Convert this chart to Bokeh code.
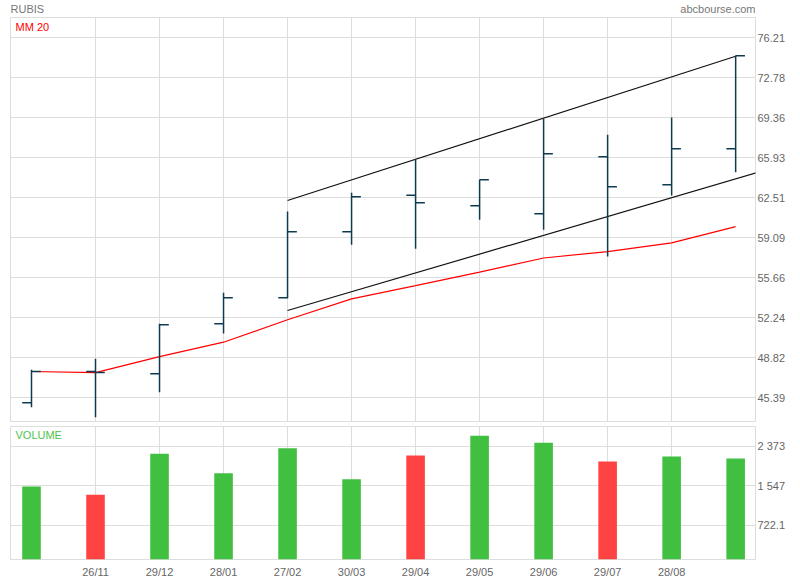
from bokeh.plotting import figure
from bokeh.layouts import column
from bokeh.models import Range1d, FixedTicker, Label, PrintfTickFormatter, ColumnDataSource
from bokeh.core.properties import value
from bokeh.embed import file_html
from bokeh.resources import INLINE

# ---------------- data ----------------
dates = ["", "26/11", "29/12", "28/01", "27/02", "30/03", "29/04", "29/05", "29/06", "29/07", "28/08", ""]
opens = [44.96, 47.64, 47.44, 51.72, 53.95, 59.60, 62.73, 61.83, 61.14, 66.02, 63.62, 66.71]
highs = [47.79, 48.73, 51.72, 54.38, 61.34, 62.94, 65.79, 64.05, 69.28, 67.91, 69.39, 74.69]
lows = [44.58, 43.73, 45.87, 50.89, 53.92, 58.49, 58.15, 60.63, 59.77, 57.49, 62.71, 64.70]
closes = [47.64, 47.55, 51.64, 53.95, 59.60, 62.60, 62.08, 64.05, 66.28, 63.45, 66.71, 74.67]
mm20 = [47.64, 47.55, 48.92, 50.15, 52.07, 53.86, 55.00, 56.15, 57.36, 57.91, 58.66, 60.05]
volume = [1530, 1356, 2217, 1810, 2332, 1686, 2182, 2594, 2450, 2058, 2161, 2120]
upper_x = [4, 11]
upper_y = [62.28, 74.63]
lower_x = [4, 12]
lower_y = [52.86, 65.74]
price_ticks = [45.39, 48.82, 52.24, 55.66, 59.09, 62.51, 65.93, 69.36, 72.78, 76.21]
volume_ticks = [722.1, 1547, 2373]
volume_tick_labels = ["722.1", "1 547", "2 373"]
header_texts = ["RUBIS", "abcbourse.com"]

# ---------------- styles ----------------
FONT = "Liberation Sans"
GRID = "#dddddd"
TXT = "#666666"
BAR_COL = "#0f3b4f"
GREEN = "#40bf40"
RED = "#ff4242"
W = 800
HEAD_H = 17
BL, BR = 10, 45          # left / right borders (frame spans x 10..755)

n = len(dates)
xs = list(range(n))
tick_pos = [i for i, d in enumerate(dates) if d]
tick_over = {i: dates[i] for i in tick_pos}
vol_colors = [RED if c < o else GREEN for o, c in zip(opens, closes)]

src = ColumnDataSource(dict(x=xs, o=opens, h=highs, l=lows, c=closes, mm=mm20,
                            v=volume, vc=vol_colors,
                            xl=[x - 0.145 for x in xs], xr=[x + 0.145 for x in xs]))

xr = Range1d(-0.328, 11.31)
PY0, PY1 = 43.36, 77.95
VY0, VY1 = 0, 2790

# ---------------- header strip (pixel coordinates of the frame) ----------------
p0 = figure(width=W, height=HEAD_H, title=None,
            x_range=Range1d(BL, W - BR), y_range=Range1d(HEAD_H, 0),
            x_axis_location=None, y_axis_location=None, toolbar_location=None,
            output_backend="svg", min_border_left=BL, min_border_right=BR,
            min_border_top=0, min_border_bottom=0)
p0.grid.visible = False
p0.outline_line_color = None
p0.text(x=[BL, W - BR], y=[8.5, 8], text=header_texts, text_font=value(FONT),
        text_font_size="11px", text_color="#777777", text_align=["left", "right"],
        text_baseline="middle")


def style(p):
    p.outline_line_color = GRID
    p.background_fill_color = "white"
    p.border_fill_color = "white"
    p.xgrid.ticker = FixedTicker(ticks=tick_pos)
    p.xgrid.grid_line_color = GRID
    p.ygrid.grid_line_color = GRID
    ax = p.yaxis[0]
    ax.axis_line_color = None
    ax.major_tick_line_color = None
    ax.minor_tick_line_color = None
    ax.major_tick_out = 0
    ax.major_tick_in = 0
    ax.major_label_standoff = 2
    ax.major_label_text_font = FONT
    ax.major_label_text_font_size = "11px"
    ax.major_label_text_color = TXT


# ---------------- price panel ----------------
p1 = figure(width=W, height=423 - HEAD_H, title=None, x_range=xr, y_range=Range1d(PY0, PY1),
            y_axis_location="right", x_axis_location=None,
            toolbar_location=None, output_backend="svg",
            min_border_left=BL, min_border_right=BR, min_border_top=0, min_border_bottom=2)
style(p1)
p1.yaxis.ticker = FixedTicker(ticks=price_ticks)
p1.yaxis.formatter = PrintfTickFormatter(format="%.2f")

p1.line(upper_x, upper_y, line_color="#111111", line_width=1.2)
p1.line(lower_x, lower_y, line_color="#111111", line_width=1.2)
p1.line("x", "mm", source=src, line_color="#ff0000", line_width=1.2)
p1.segment(x0="x", y0="l", x1="x", y1="h", source=src, line_color=BAR_COL, line_width=1.5)
p1.segment(x0="xl", y0="o", x1="x", y1="o", source=src, line_color=BAR_COL, line_width=1.5)
p1.segment(x0="x", y0="c", x1="xr", y1="c", source=src, line_color=BAR_COL, line_width=1.5)

p1.add_layout(Label(x=xr.start, y=PY1, x_units="data", y_units="data", x_offset=5, y_offset=-3,
                    text="MM 20", text_font=FONT, text_font_size="11px", text_color="#ff0000",
                    text_baseline="top"))

# ---------------- volume panel ----------------
p2 = figure(width=W, height=157, title=None, x_range=xr, y_range=Range1d(VY0, VY1),
            y_axis_location="right", toolbar_location=None, output_backend="svg",
            min_border_left=BL, min_border_right=BR, min_border_top=3, min_border_bottom=20)
style(p2)
p2.yaxis.ticker = FixedTicker(ticks=volume_ticks)
p2.yaxis.major_label_overrides = dict(zip(volume_ticks, volume_tick_labels))
xa = p2.xaxis[0]
xa.ticker = FixedTicker(ticks=tick_pos)
xa.major_label_overrides = tick_over
xa.axis_line_color = None
xa.major_tick_line_color = None
xa.minor_tick_line_color = None
xa.major_tick_out = 0
xa.major_tick_in = 0
xa.major_label_standoff = 6
xa.major_label_text_font = FONT
xa.major_label_text_font_size = "11px"
xa.major_label_text_color = TXT

p2.vbar(x="x", top="v", bottom=0, width=0.29, source=src, fill_color="vc", line_color=None)
p2.add_layout(Label(x=xr.start, y=VY1, x_units="data", y_units="data", x_offset=5, y_offset=-2,
                    text="VOLUME", text_font=FONT, text_font_size="11px", text_color="#4cc44c",
                    text_baseline="top"))

layout = column(p0, p1, p2, spacing=0)
open("out.html", "w").write(file_html(layout, INLINE))
